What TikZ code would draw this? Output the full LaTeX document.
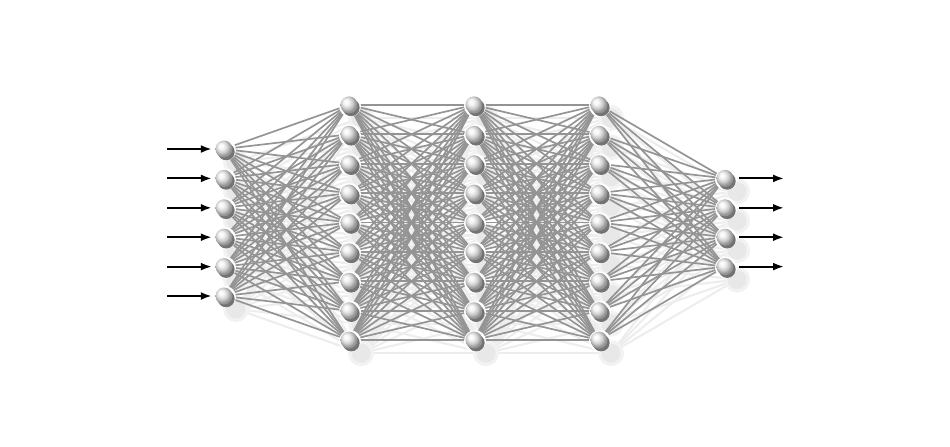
\documentclass[tikz,border=0pt]{standalone}
\usetikzlibrary{arrows.meta}
\pgfdeclarelayer{shadow}
\pgfdeclarelayer{edges}
\pgfsetlayers{shadow,edges,main}
\pgfdeclareradialshading{lightball}{\pgfqpoint{-10bp}{10bp}}{color(0bp)=(white); color(8bp)=(white!96!black); color(17bp)=(black!20); color(25bp)=(black!42); color(50bp)=(black!50)}

\begin{document}
\begin{tikzpicture}[
  neuron/.style={circle, inner sep=0pt, minimum size=0.17cm, shading=lightball},
  link/.style={draw=black!42, line width=0.48pt},
  linkshadow/.style={draw=black!7, line width=0.6pt},
  blob/.style={fill=black!9},
  io/.style={-{Latex[length=1.1mm,width=0.8mm]}, line width=0.6pt}
]
  % Parameters
  \def\dy{0.294} % vertical spacing of neurons
  \def\yc{2.235} % vertical centre of all layers
  \def\sx{0.12} % shadow x offset
  \def\sy{-0.13} % shadow y offset

  \useasboundingbox (0,0) rectangle (9.5,4.46);

  % neurons: layer/x/count
  \foreach \l/\x/\n in {0/2.24/6,1/3.49/9,2/4.74/9,3/5.99/9,4/7.25/4}
    \foreach \i in {1,...,\n}
      \node[neuron] (n\l-\i) at (\x,{\yc+((\n+1)/2-\i)*\dy}) {};

  % connections between consecutive layers
  \begin{pgfonlayer}{edges}
  \foreach \a/\b/\p/\q in {0/1/6/9,1/2/9/9,2/3/9/9,3/4/9/4}
    \foreach \i in {1,...,\p}
      \foreach \j in {1,...,\q}
        \draw[link] (n\a-\i.center) -- (n\b-\j.center);
  % halo and dark rim behind each ball
  \foreach \l/\n in {0/6,1/9,2/9,3/9,4/4}
    \foreach \i in {1,...,\n}
      {\fill[white] ([shift={(0.01,-0.01)}]n\l-\i.center) circle (0.11);
       \fill[black!55] ([shift={(0.022,-0.028)}]n\l-\i.center) circle (0.085);}
  \end{pgfonlayer}

  % soft shadows below everything
  \begin{pgfonlayer}{shadow}
  \foreach \a/\b/\p/\q in {0/1/6/9,1/2/9/9,2/3/9/9,3/4/9/4}
    \foreach \i in {1,...,\p}
      \foreach \j in {1,...,\q}
        \draw[linkshadow] ([shift={(\sx,\sy)}]n\a-\i.center) -- ([shift={(\sx,\sy)}]n\b-\j.center);
  \foreach \l/\n in {0/6,1/9,2/9,3/9,4/4}
    \foreach \i in {1,...,\n}
      {\fill[black!5] ([shift={(\sx,\sy)}]n\l-\i.center) circle (0.13);
       \fill[blob] ([shift={(\sx,\sy)}]n\l-\i.center) circle (0.095);}
  \end{pgfonlayer}

  % input arrows
  \foreach \i in {1,...,6}
    {\coordinate (in-\i) at ([xshift=-0.57cm]n0-\i.center);
     \draw[io, shorten >=0.3mm] (in-\i) -- (n0-\i);}

  % output arrows
  \foreach \i in {1,...,4}
    {\coordinate (out-\i) at ([xshift=0.59cm]n4-\i.center);
     \draw[io, shorten <=0.5mm] (n4-\i) -- (out-\i);}

\end{tikzpicture}
\end{document}
